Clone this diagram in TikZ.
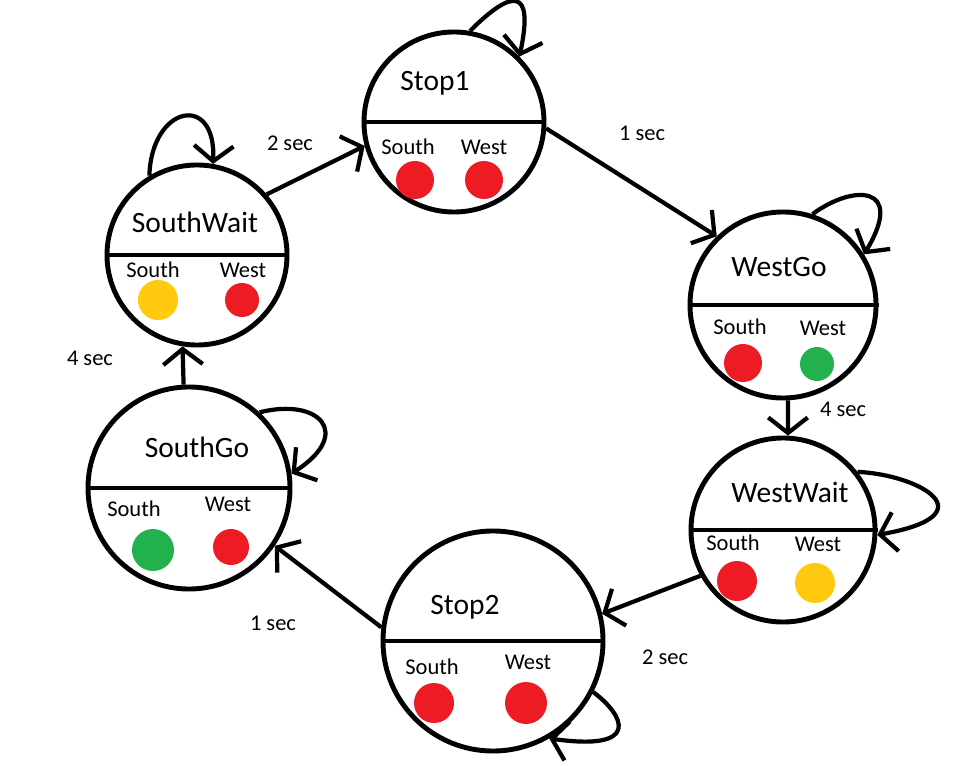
\documentclass[tikz,border=0pt]{standalone}
\usepackage{fontspec}
\setmainfont{Carlito}
\usetikzlibrary{arrows.meta}

\definecolor{tlred}{HTML}{ED1C24}
\definecolor{tlyellow}{HTML}{FFC90E}
\definecolor{tlgreen}{HTML}{22B14C}

\begin{document}
\begin{tikzpicture}[x=0.025cm, y=-0.025cm]
        \tikzset{state/.style={draw,circle,line width=3.5pt,inner sep=0pt,minimum size=#1}}
        \tikzset{title/.style={inner sep=0pt,font=\fontsize{21}{24}\selectfont}}
        \tikzset{lbl/.style={inner sep=0pt,font=\fontsize{16}{19}\selectfont}}
        \tikzset{lamp/.style={circle,inner sep=0pt,fill=#1}}
        \tikzset{trans/.style={line width=3pt,-{Straight Barb[length=11pt,width=28pt]}}}
        \path[use as bounding box,fill=white] (0,0) rectangle (971,766);
        % states
        \node[state=4.5cm](stopA) at (454,122) {};
        \node[state=4.5cm](swait) at (197,255) {};
        \node[state=4.65cm](wgo) at (783,305) {};
        \node[state=4.6cm](wwait) at (783,530) {};
        \node[state=5.5cm](stopB) at (493,641) {};
        \node[state=5.05cm](sgo) at (189,488) {};
        \foreach \s in {stopA,swait,wgo,wwait,stopB,sgo}
            \draw[line width=3.5pt] (\s.west) -- (\s.east);
        % Stop1
        \node[title](stopAt) at ([shift={(-19,-39)}]stopA.center) {Stop1};
        \node[lbl](stopAs) at ([shift={(-46,25)}]stopA.center) {South};
        \node[lbl](stopAw) at ([shift={(30,25)}]stopA.center) {West};
        \node[lamp=tlred,minimum size=0.95cm](stopAsl) at ([shift={(-39,58)}]stopA.center) {};
        \node[lamp=tlred,minimum size=0.95cm](stopAwl) at ([shift={(30,58)}]stopA.center) {};
        % SouthWait
        \node[title](swaitt) at ([shift={(-2,-33)}]swait.center) {SouthWait};
        \node[lbl](swaits) at ([shift={(-44,15)}]swait.center) {South};
        \node[lbl](swaitw) at ([shift={(46,15)}]swait.center) {West};
        \node[lamp=tlyellow,minimum size=1cm](swaitsl) at ([shift={(-39,45)}]swait.center) {};
        \node[lamp=tlred,minimum size=0.85cm](swaitwl) at ([shift={(45,45)}]swait.center) {};
        % WestGo
        \node[title](wgot) at ([shift={(-4,-38)}]wgo.center) {WestGo};
        \node[lbl](wgos) at ([shift={(-43,22)}]wgo.center) {South};
        \node[lbl](wgow) at ([shift={(40,23)}]wgo.center) {West};
        \node[lamp=tlred,minimum size=0.95cm](wgosl) at ([shift={(-40,58)}]wgo.center) {};
        \node[lamp=tlgreen,minimum size=0.85cm](wgowl) at ([shift={(34,59)}]wgo.center) {};
        % WestWait
        \node[title](wwaitt) at ([shift={(7,-38)}]wwait.center) {WestWait};
        \node[lbl](wwaits) at ([shift={(-50,13)}]wwait.center) {South};
        \node[lbl](wwaitw) at ([shift={(35,14)}]wwait.center) {West};
        \node[lamp=tlred,minimum size=1cm](wwaitsl) at ([shift={(-46,51)}]wwait.center) {};
        \node[lamp=tlyellow,minimum size=1cm](wwaitwl) at ([shift={(32,53)}]wwait.center) {};
        % Stop2
        \node[title](stopBt) at ([shift={(-28,-34)}]stopB.center) {Stop2};
        \node[lbl](stopBs) at ([shift={(-61,26)}]stopB.center) {South};
        \node[lbl](stopBw) at ([shift={(35,21)}]stopB.center) {West};
        \node[lamp=tlred,minimum size=1cm](stopBsl) at ([shift={(-59,62)}]stopB.center) {};
        \node[lamp=tlred,minimum size=1.05cm](stopBwl) at ([shift={(33,62)}]stopB.center) {};
        % SouthGo
        \node[title](sgot) at ([shift={(8,-41)}]sgo.center) {SouthGo};
        \node[lbl](sgos) at ([shift={(-55,21)}]sgo.center) {South};
        \node[lbl](sgow) at ([shift={(39,16)}]sgo.center) {West};
        \node[lamp=tlgreen,minimum size=1.05cm](sgosl) at ([shift={(-36,62)}]sgo.center) {};
        \node[lamp=tlred,minimum size=0.9cm](sgowl) at ([shift={(42,59)}]sgo.center) {};
        % transitions
        \draw[trans] (swait.41.6) -- (stopA.195);
        \draw[trans] (stopA.-4) -- (wgo.134);
        \draw[trans] (wgo.-87.5) -- (wwait.87.5);
        \draw[trans] (wwait.209.5) -- (stopB.14.7);
        \draw[trans] (stopB.173) -- (sgo.-34.5);
        \draw[trans] (sgo.93.4) -- (swait.-99.4);
        \node[lbl](tA) at (290,143) {2 sec};
        \node[lbl](tB) at (642,133) {1 sec};
        \node[lbl](tC) at (843,409) {4 sec};
        \node[lbl](tD) at (665,657) {2 sec};
        \node[lbl](tE) at (273,623) {1 sec};
        \node[lbl](tF) at (90,358) {4 sec};
        % self loops
        \draw[trans] (stopA.80) .. controls +(42,-42) and +(15,-70) .. (stopA.45);
        \draw[trans] (swait.121.5) .. controls +(2,-70) and +(3,-72) .. (swait.80.5);
        \draw[trans] (wgo.72.5) .. controls +(40,-30) and +(42,-70) .. (wgo.32.4);
        \draw[trans] (wwait.38) .. controls +(63,3) and +(112,-20) .. (wwait.-3);
        \draw[trans] (stopB.-27.5) .. controls +(32,24) and +(92,13) .. (stopB.-60.6);
        \draw[trans] (sgo.47.4) .. controls +(60,-15) and +(62,-40) .. (sgo.8.4);
\end{tikzpicture}
\end{document}
